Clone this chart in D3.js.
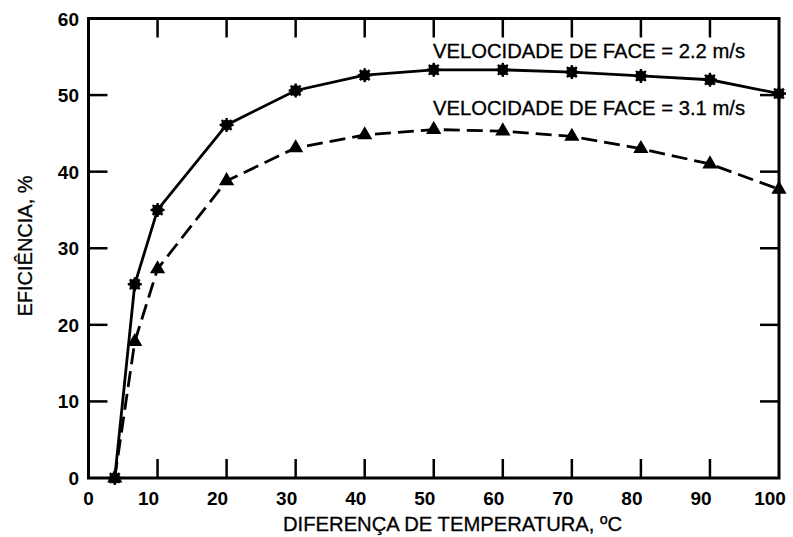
<!DOCTYPE html>
<html>
<head>
<meta charset="utf-8">
<script src="https://cdn.jsdelivr.net/npm/d3@7"></script>
<style>
  body { margin: 0; background: #fff; }
  svg { display: block; font-family: "Liberation Sans", Arial, sans-serif; }
</style>
</head>
<body>
<div id="chart"></div>
<script>
const width = 793;
const height = 537;

// data
const tempDiff = [3.8, 6.7, 10, 20, 30, 40, 50, 60, 70, 80, 90, 100];
const eff22 = [0, 25.3, 35, 46.1, 50.6, 52.6, 53.3, 53.3, 53.0, 52.5, 52.0, 50.2];
const eff31 = [0, 17.8, 27.3, 38.8, 43.1, 44.8, 45.5, 45.3, 44.6, 43.0, 41.0, 37.7];
const xTicks = [0, 10, 20, 30, 40, 50, 60, 70, 80, 90, 100];
const yTicks = [0, 10, 20, 30, 40, 50, 60];
const seriesLabels = ["VELOCIDADE DE FACE = 2.2 m/s", "VELOCIDADE DE FACE = 3.1 m/s"];

const margin = { top: 18.5, right: 14, bottom: 59, left: 88.5 };

const x = d3.scaleLinear().domain([0, 100]).range([margin.left, width - margin.right]);
const y = d3.scaleLinear().domain([0, 60]).range([height - margin.bottom, margin.top]);

const svg = d3.select("#chart").append("svg")
    .attr("width", width)
    .attr("height", height);

const tickLen = 19;
const inner = xTicks.filter(d => d > 0 && d < 100);
const innerY = yTicks.filter(d => d > 0 && d < 60);

// frame ticks, all pointing inward
const tickG = svg.append("g").attr("stroke", "#000").attr("stroke-width", 2.5);
tickG.selectAll(".tb").data(inner).join("line")
    .attr("class", "tb")
    .attr("x1", d => x(d)).attr("x2", d => x(d))
    .attr("y1", y(0)).attr("y2", y(0) - tickLen);
tickG.selectAll(".tt").data(inner).join("line")
    .attr("class", "tt")
    .attr("x1", d => x(d)).attr("x2", d => x(d))
    .attr("y1", y(60)).attr("y2", y(60) + tickLen);
tickG.selectAll(".tl").data(innerY).join("line")
    .attr("class", "tl")
    .attr("x1", x(0)).attr("x2", x(0) + tickLen)
    .attr("y1", d => y(d)).attr("y2", d => y(d));
tickG.selectAll(".tr").data(innerY).join("line")
    .attr("class", "tr")
    .attr("x1", x(100)).attr("x2", x(100) - tickLen)
    .attr("y1", d => y(d)).attr("y2", d => y(d));

// frame
svg.append("rect")
    .attr("x", x(0)).attr("y", y(60))
    .attr("width", x(100) - x(0)).attr("height", y(0) - y(60))
    .attr("fill", "none").attr("stroke", "#000").attr("stroke-width", 3);

// tick labels
svg.append("g").selectAll("text").data(xTicks).join("text")
    .attr("x", d => x(d) - (d === 0 ? 0 : 9))
    .attr("y", 505)
    .attr("text-anchor", "middle")
    .attr("font-size", 19)
    .attr("font-weight", "bold")
    .text(d => d);

svg.append("g").selectAll("text").data(yTicks).join("text")
    .attr("x", 79)
    .attr("y", d => y(d) + 7)
    .attr("text-anchor", "end")
    .attr("font-size", 19)
    .attr("font-weight", "bold")
    .text(d => d);

// axis titles
svg.append("text")
    .attr("x", 283).attr("y", 531)
    .attr("font-size", 20)
    .attr("textLength", 339)
    .attr("lengthAdjust", "spacingAndGlyphs")
    .attr("stroke", "#000").attr("stroke-width", 0.3)
    .text("DIFERENÇA DE TEMPERATURA, ºC");

svg.append("text")
    .attr("transform", "translate(32,246) rotate(-90)")
    .attr("text-anchor", "middle")
    .attr("font-size", 20)
    .attr("stroke", "#000").attr("stroke-width", 0.3)
    .text("EFICIÊNCIA, %");

// lines
const pts22 = tempDiff.map((t, i) => [t, eff22[i]]);
const pts31 = tempDiff.map((t, i) => [t, eff31[i]]);
const line = d3.line().x(d => x(d[0])).y(d => y(d[1]));

svg.append("path").datum(pts22)
    .attr("d", line)
    .attr("fill", "none").attr("stroke", "#000").attr("stroke-width", 2.8);

svg.append("path").datum(pts31)
    .attr("d", line)
    .attr("fill", "none").attr("stroke", "#000").attr("stroke-width", 2.8)
    .attr("stroke-dasharray", "16,7");

// markers: spiky dots for 2.2 m/s, triangles for 3.1 m/s
const stars = svg.append("g").selectAll("g").data(pts22).join("g")
    .attr("transform", d => `translate(${x(d[0])},${y(d[1])})`);
stars.append("circle").attr("r", 5.5).attr("fill", "#000");
[0, 45, 90, 135].forEach(a => {
    stars.append("line")
        .attr("x1", -7).attr("x2", 7).attr("y1", 0).attr("y2", 0)
        .attr("transform", `rotate(${a})`)
        .attr("stroke", "#000").attr("stroke-width", 2.4);
});

svg.append("g").selectAll("path").data(pts31).join("path")
    .attr("transform", d => `translate(${x(d[0])},${y(d[1])})`)
    .attr("d", d3.symbol(d3.symbolTriangle, 100))
    .attr("fill", "#000");

// series labels
svg.append("g").selectAll("text").data(seriesLabels).join("text")
    .attr("x", 433)
    .attr("y", (d, i) => i === 0 ? 58 : 115)
    .attr("font-size", 19.5)
    .attr("textLength", 312)
    .attr("lengthAdjust", "spacingAndGlyphs")
    .attr("stroke", "#000").attr("stroke-width", 0.3)
    .text(d => d);
</script>
</body>
</html>
